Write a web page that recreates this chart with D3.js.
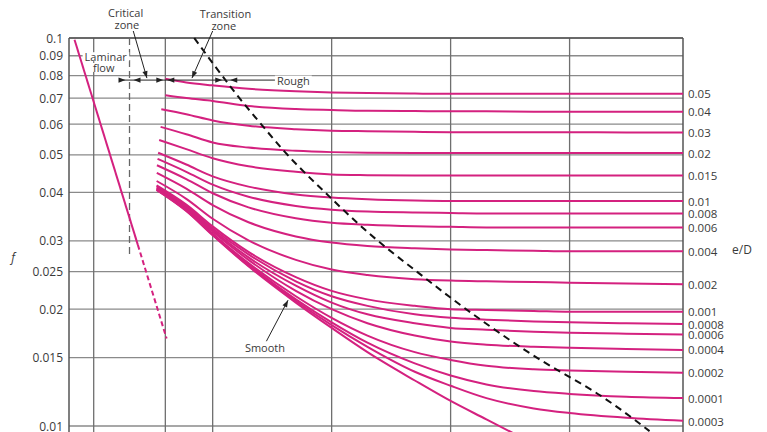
<!DOCTYPE html>
<html><head><meta charset="utf-8">
<script src="https://cdn.jsdelivr.net/npm/d3@7"></script>
<style>
body{margin:0;background:#fff}
svg{display:block}
text{font-family:"Open Sans",sans-serif;fill:#3a3a3a}
</style>
</head><body>
<svg id="chart" width="767" height="432"></svg>
<script>
// ---------- DATA ----------
const reynolds = [4000, 6000, 1e4, 2e4, 5e4, 1e5, 2e5, 5e5, 1e6, 2e6, 5e6, 1e7, 3e7, 1e8];
const roughnessLabels = ["0.05","0.04","0.03","0.02","0.015","0.01","0.008","0.006","0.004","0.002","0.001","0.0008","0.0006","0.0004","0.0002","0.0001","0.0003",""];
const curveStartRe = [4000,4000,3700,3650,3550,3480,3440,3400,3390,3380,3380,3380,3380,3380,3380,3380,3380,3380];
const f_0_05    = [0.0785,0.0768,0.0755,0.0740,0.0729,0.0724,0.0721,0.0719,0.0718,0.0718,0.0718,0.0718,0.0718,0.0718];
const f_0_04    = [0.0712,0.0700,0.0688,0.0668,0.0656,0.0652,0.0649,0.0648,0.0647,0.0647,0.0646,0.0646,0.0646,0.0646];
const f_0_03    = [0.0655,0.0636,0.0613,0.0594,0.0582,0.0577,0.0575,0.0573,0.0572,0.0572,0.0572,0.0572,0.0571,0.0571];
const f_0_02    = [0.0590,0.0565,0.0538,0.0522,0.0512,0.0508,0.0506,0.0505,0.0505,0.0505,0.0505,0.0505,0.0505,0.0505];
const f_0_015   = [0.0546,0.0517,0.0490,0.0467,0.0452,0.0445,0.0443,0.0442,0.0442,0.0442,0.0442,0.0442,0.0442,0.0442];
const f_0_01    = [0.0506,0.0472,0.0440,0.0414,0.0395,0.0388,0.0384,0.0381,0.0380,0.0380,0.0380,0.0380,0.0380,0.0380];
const f_0_008   = [0.0488,0.0452,0.0419,0.0390,0.0369,0.0361,0.0357,0.0355,0.0354,0.0353,0.0353,0.0353,0.0353,0.0353];
const f_0_006   = [0.0470,0.0433,0.0398,0.0366,0.0343,0.0334,0.0330,0.0327,0.0326,0.0325,0.0325,0.0325,0.0325,0.0325];
const f_0_004   = [0.0449,0.0409,0.0371,0.0335,0.0308,0.0297,0.0291,0.0287,0.0285,0.0284,0.0283,0.0282,0.0282,0.0282];
const f_0_002   = [0.0428,0.0385,0.0342,0.0301,0.0268,0.0253,0.0245,0.0239,0.0237,0.0236,0.0235,0.0234,0.0233,0.0232];
const f_0_001   = [0.0417,0.0372,0.0327,0.0281,0.0242,0.0223,0.0212,0.0204,0.0200,0.0199,0.0198,0.0197,0.0197,0.0197];
const f_0_0008  = [0.0415,0.0369,0.0323,0.0277,0.0236,0.0216,0.0204,0.0194,0.0190,0.0188,0.0186,0.0185,0.0184,0.0183];
const f_0_0006  = [0.0412,0.0367,0.0320,0.0272,0.0230,0.0208,0.0194,0.0184,0.0179,0.0177,0.0175,0.0174,0.0173,0.0172];
const f_0_0004  = [0.0410,0.0364,0.0317,0.0268,0.0223,0.0200,0.0184,0.0171,0.0165,0.0162,0.0160,0.0159,0.0158,0.0157];
const f_0_0002  = [0.0408,0.0361,0.0313,0.0263,0.0216,0.0190,0.0171,0.0155,0.0148,0.0143,0.0140,0.0139,0.0138,0.0137];
const f_0_0001  = [0.0407,0.0360,0.0312,0.0261,0.0212,0.0185,0.0164,0.0145,0.0135,0.0128,0.0123,0.0121,0.0119,0.0118];
const f_0_00005 = [0.0406,0.0359,0.0311,0.0259,0.0210,0.0182,0.0160,0.0138,0.0127,0.0118,0.0111,0.0108,0.0105,0.0103];
const f_smooth  = [0.0406,0.0358,0.0310,0.0258,0.0208,0.0179,0.0155,0.0131,0.0116,0.0104,0.0090,null,null,null];
const frictionSeries = [f_0_05,f_0_04,f_0_03,f_0_02,f_0_015,f_0_01,f_0_008,f_0_006,f_0_004,f_0_002,f_0_001,f_0_0008,f_0_0006,f_0_0004,f_0_0002,f_0_0001,f_0_00005,f_smooth];

const laminarRe = [690, 2350];
const laminarF = [0.0990, 0.0293];
const laminarDashRe = [2350, 4100];
const laminarDashF = [0.0293, 0.0168];

const roughBoundaryRe = [7000, 12000, 16800, 25500, 42500, 88000, 245000, 520000, 1.35e6, 5.3e6, 1.8e7, 4.7e7];
const roughBoundaryF  = [0.1, 0.08, 0.07, 0.06, 0.05, 0.04, 0.03, 0.025, 0.02, 0.015, 0.012, 0.0097];

const fTicks = [0.1, 0.09, 0.08, 0.07, 0.06, 0.05, 0.04, 0.03, 0.025, 0.02, 0.015, 0.01];
const fTickLabels = ["0.1","0.09","0.08","0.07","0.06","0.05","0.04","0.03","0.025","0.02","0.015","0.01"];
const reGrid = [1e3, 4e3, 1e4, 1e5, 1e6, 1e7];
const criticalRe = 2000, criticalBottomF = 0.0274;
const zoneBoundsRe = [2000, 4000, 13000];

// ---------- LAYOUT ----------
const L = 69, R = 683, T = 38, B = 426;
const svg = d3.select("#chart");
const x = d3.scaleLog().domain([620, 8.98e7]).range([L, R]);
const y = d3.scaleLog().domain([0.01, 0.1]).range([B, T]);
const pink = "#d4217f";

svg.append("defs").append("clipPath").attr("id","plotclip")
  .append("rect").attr("x",L).attr("y",T-1).attr("width",R-L).attr("height",432-T+1);

// grid
const grid = svg.append("g");
grid.selectAll(".hg").data(fTicks).join("line")
  .attr("x1",L).attr("x2",R).attr("y1",d=>y(d)).attr("y2",d=>y(d))
  .attr("stroke","#8a8a8a").attr("stroke-width",1.3);
grid.selectAll(".vg").data(reGrid).join("line")
  .attr("x1",d=>x(d)).attr("x2",d=>x(d)).attr("y1",T).attr("y2",432)
  .attr("stroke","#6f6f6f").attr("stroke-width",1.3);
// frame
grid.append("line").attr("x1",L).attr("x2",L).attr("y1",T).attr("y2",432).attr("stroke","#555").attr("stroke-width",1.5);
grid.append("line").attr("x1",R).attr("x2",R).attr("y1",T).attr("y2",432).attr("stroke","#555").attr("stroke-width",1.5);
grid.append("line").attr("x1",L).attr("x2",R).attr("y1",T).attr("y2",T).attr("stroke","#555").attr("stroke-width",1.5);

// y tick labels
svg.append("g").selectAll("text").data(fTicks).join("text")
  .attr("x",L-6).attr("y",d=>y(d)).attr("text-anchor","end").attr("dominant-baseline","central")
  .attr("font-size",12).text((d,i)=>fTickLabels[i]);

// white backgrounds for labels sitting on grid
function bgText(t, cx, cy, size, anchor){
  const g = svg.append("g");
  const tx = g.append("text").attr("x",cx).attr("y",cy).attr("font-size",size)
    .attr("text-anchor",anchor||"middle").attr("dominant-baseline","central").text(t);
  const bb = tx.node().getBBox();
  g.insert("rect","text").attr("x",bb.x-2).attr("y",bb.y+3).attr("width",bb.width+4).attr("height",bb.height-6).attr("fill","#fff");
  return g;
}

const plot = svg.append("g").attr("clip-path","url(#plotclip)");
const lineGen = d3.line().x(d=>x(d[0])).y(d=>y(d[1])).curve(d3.curveMonotoneX).defined(d=>d[1]!=null);

// critical zone dashed vertical
plot.append("line").attr("x1",x(criticalRe)).attr("x2",x(criticalRe)).attr("y1",y(0.1)).attr("y2",y(criticalBottomF))
  .attr("stroke","#666").attr("stroke-width",1.3).attr("stroke-dasharray","7,4");

// laminar
plot.append("path").attr("d",d3.line().x(d=>x(d[0])).y(d=>y(d[1]))(d3.zip(laminarRe,laminarF)))
  .attr("fill","none").attr("stroke",pink).attr("stroke-width",2);
plot.append("path").attr("d",d3.line().x(d=>x(d[0])).y(d=>y(d[1]))(d3.zip(laminarDashRe,laminarDashF)))
  .attr("fill","none").attr("stroke",pink).attr("stroke-width",2).attr("stroke-dasharray","5,3");

// turbulent curves
frictionSeries.forEach((s,i)=>{
  const pts = reynolds.map((r,j)=>[j===0?curveStartRe[i]:r, s[j]]);
  plot.append("path").attr("d",lineGen(pts)).attr("fill","none").attr("stroke",pink).attr("stroke-width",2);
});

// rough boundary dashed
plot.append("path").attr("d",d3.line().x(d=>x(d[0])).y(d=>y(d[1])).curve(d3.curveMonotoneY)(d3.zip(roughBoundaryRe,roughBoundaryF)))
  .attr("fill","none").attr("stroke","#111").attr("stroke-width",2).attr("stroke-dasharray","7,5");

// right labels
frictionSeries.forEach((s,i)=>{
  if(!roughnessLabels[i]) return;
  svg.append("text").attr("x",R+5).attr("y",y(s[s.length-1])).attr("dominant-baseline","central")
    .attr("font-size",11.5).text(roughnessLabels[i]);
});

// axis titles
svg.append("text").attr("x",13).attr("y",y(0.0272)).attr("font-size",12).attr("font-style","italic")
  .attr("text-anchor","middle").attr("dominant-baseline","central").text("f");
svg.append("text").attr("x",742).attr("y",y(0.0285)).attr("font-size",12)
  .attr("text-anchor","middle").attr("dominant-baseline","central").text("e/D");

// annotations
function arrowHead(tx, ty, ang){
  const len = 7, hw = 2.6;
  const c = Math.cos(ang), s = Math.sin(ang);
  const bx = tx - len*c, by = ty - len*s;
  svg.append("path").attr("d",`M${tx},${ty}L${bx - hw*s},${by + hw*c}L${bx + hw*s},${by - hw*c}Z`).attr("fill","#222");
}
function leader(x1,y1,x2,y2){
  svg.append("line").attr("x1",x1).attr("y1",y1).attr("x2",x2).attr("y2",y2).attr("stroke","#222").attr("stroke-width",1);
  arrowHead(x2,y2,Math.atan2(y2-y1,x2-x1));
}
const yR = y(0.0779);
svg.append("line").attr("x1",x(1660)).attr("x2",x(34000)).attr("y1",yR).attr("y2",yR).attr("stroke","#222").attr("stroke-width",1);
zoneBoundsRe.forEach((b,i)=>{
  const gap = i===1 ? 2 : 4;
  arrowHead(x(b)-gap, yR, 0);
  arrowHead(x(b)+gap, yR, Math.PI);
});
bgText("Rough", x(34000)+1, yR, 11, "start");
bgText("Laminar", x(1000)+12, y(0.0895), 11, "middle");
bgText("flow", x(1000)+10, y(0.0840), 11, "middle");

svg.append("text").attr("x",x(1856)).attr("y",12).attr("font-size",11).attr("text-anchor","middle").attr("dominant-baseline","central").text("Critical");
svg.append("text").attr("x",x(1900)).attr("y",24).attr("font-size",11).attr("text-anchor","middle").attr("dominant-baseline","central").text("zone");
svg.append("text").attr("x",x(12800)).attr("y",13).attr("font-size",11).attr("text-anchor","middle").attr("dominant-baseline","central").text("Transition");
svg.append("text").attr("x",x(12400)).attr("y",25).attr("font-size",11).attr("text-anchor","middle").attr("dominant-baseline","central").text("zone");
leader(x(2150), 31, x(2800), yR-2);
leader(x(1e4), 31, x(6700), yR-2);

svg.append("text").attr("x",x(27500)).attr("y",y(0.0159)).attr("font-size",11).attr("text-anchor","middle").attr("dominant-baseline","central").text("Smooth");
leader(x(28300), y(0.01654), x(43000), y(0.0211));
</script>
</body></html>
